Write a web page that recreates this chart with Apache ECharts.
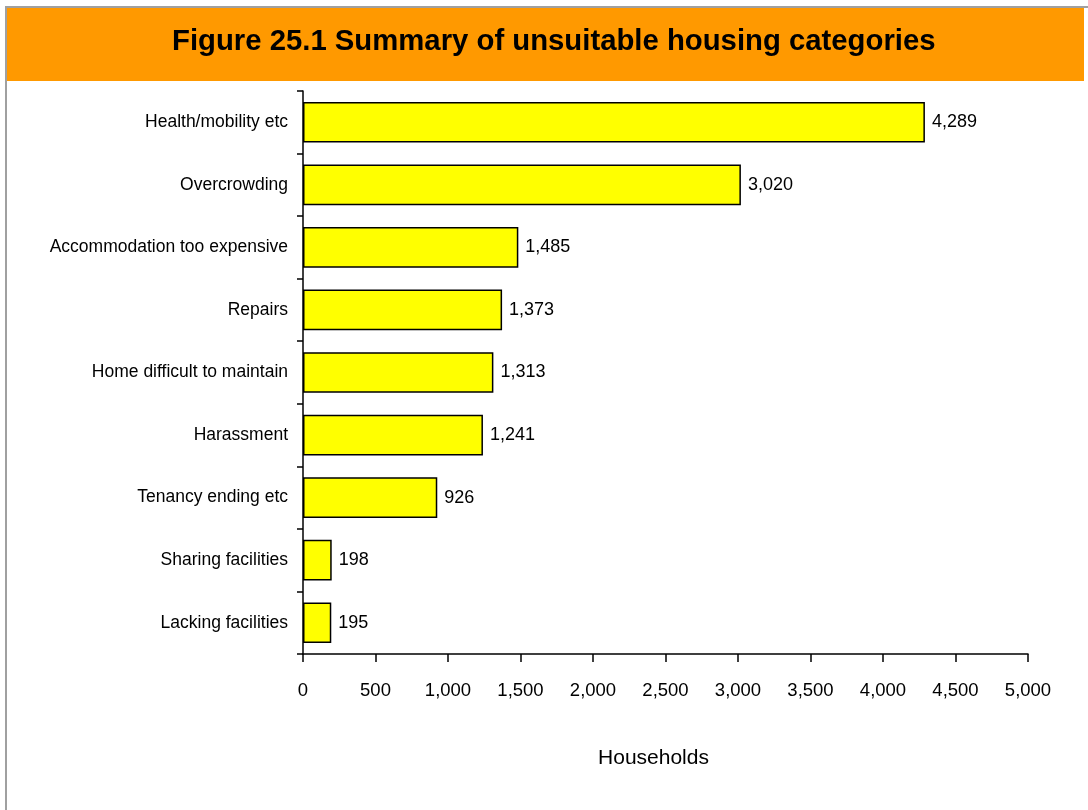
<!DOCTYPE html>
<html>
<head>
<meta charset="utf-8">
<script src="https://cdn.jsdelivr.net/npm/echarts@6/dist/echarts.min.js"></script>
<style>
  html, body { margin: 0; padding: 0; background: #ffffff; }
  #chart { width: 1088px; height: 810px; }
</style>
</head>
<body>
<div id="chart"></div>
<script>
// Unsuitable housing categories, listed top to bottom
const categories = [
  'Health/mobility etc',
  'Overcrowding',
  'Accommodation too expensive',
  'Repairs',
  'Home difficult to maintain',
  'Harassment',
  'Tenancy ending etc',
  'Sharing facilities',
  'Lacking facilities'
];
const households = [4289, 3020, 1485, 1373, 1313, 1241, 926, 198, 195];

const titleText = 'Figure 25.1 Summary of unsuitable housing categories';
const axisTitle = 'Households';

const fontFamily = '"Liberation Sans", Arial, sans-serif';
const fmt = v => Number(v).toLocaleString('en-GB');

const chart = echarts.init(document.getElementById('chart'), null, { renderer: 'canvas' });

chart.setOption({
  backgroundColor: '#ffffff',
  animation: false,
  graphic: [
    {
      type: 'rect',
      z: -10,
      shape: { x: 6, y: 7, width: 1100, height: 820 },
      style: { fill: '#ffffff', stroke: '#a0a0a0', lineWidth: 2 }
    },
    {
      type: 'rect',
      z: -5,
      shape: { x: 7, y: 8, width: 1077, height: 73 },
      style: { fill: '#ff9900' }
    },
    {
      type: 'text',
      left: 172,
      top: 27,
      style: {
        text: titleText,
        font: 'bold 29.3px ' + fontFamily,
        fill: '#000000'
      }
    }
  ],
  grid: { left: 303, right: 60, top: 91, bottom: 156, containLabel: false },
  xAxis: {
    type: 'value',
    min: 0,
    max: 5000,
    interval: 500,
    name: axisTitle,
    nameLocation: 'middle',
    nameGap: 94,
    nameTextStyle: { fontFamily, fontSize: 21, color: '#000000', padding: [0, 24, 0, 0] },
    axisLine: { show: true, lineStyle: { color: '#000000', width: 1.5 } },
    axisTick: { show: true, length: 8, lineStyle: { color: '#000000', width: 1.5 } },
    splitLine: { show: false },
    axisLabel: {
      margin: 27,
      fontFamily,
      fontSize: 18.5,
      color: '#000000',
      formatter: v => fmt(v)
    }
  },
  yAxis: {
    type: 'category',
    data: categories,
    inverse: true,
    axisLine: { show: true, lineStyle: { color: '#000000', width: 1.5 } },
    axisTick: { show: true, length: 6, lineStyle: { color: '#000000', width: 1.5 } },
    axisLabel: {
      margin: 15,
      fontFamily,
      fontSize: 17.5,
      color: '#000000'
    }
  },
  series: [{
    type: 'bar',
    data: households,
    barCategoryGap: '35%',
    itemStyle: { color: '#ffff00', borderColor: '#000000', borderWidth: 1.5 },
    label: {
      show: true,
      position: 'right',
      distance: 7,
      fontFamily,
      fontSize: 18,
      color: '#000000',
      formatter: p => fmt(p.value)
    }
  }]
});
</script>
</body>
</html>
